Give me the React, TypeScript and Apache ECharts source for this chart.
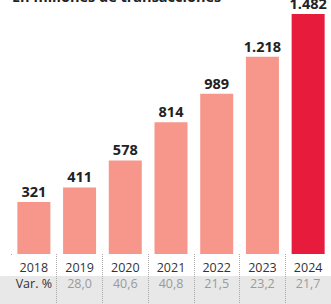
import React, { useEffect, useRef } from "react";
import * as echarts from "echarts";

const title = "En millones de transacciones";
const years = ["2018", "2019", "2020", "2021", "2022", "2023", "2024"];
const values = [321, 411, 578, 814, 989, 1218, 1482];
const varLabels = ["Var. %", "28,0", "40,6", "40,8", "21,5", "23,2", "21,7"];

const SALMON = "#f7968a";
const RED = "#e71b3b";
const BAND = "#e8e8e8";
const FONT = "'Open Sans', 'Noto Sans', sans-serif";

const fmt = (v: number) => String(v).replace(/\B(?=(\d{3})+(?!\d))/g, ".");

export default function App() {
  const ref = useRef<HTMLDivElement>(null);
  useEffect(() => {
    if (!ref.current) return;
    const chart = echarts.init(ref.current, undefined, { renderer: "svg" });
    const maxV = Math.max(...values);
    chart.setOption({
      animation: false,
      backgroundColor: "#ffffff",
      textStyle: { fontFamily: FONT },
      graphic: [
        {
          type: "rect",
          z: -10,
          silent: true,
          shape: { x: 0, y: 276, width: 331, height: 28 },
          style: { fill: BAND },
        },
        {
          type: "text",
          left: 12,
          top: -11,
          style: {
            text: title,
            font: `bold 14.5px ${FONT}`,
            fill: "#222",
          },
        },
        {
          type: "rect",
          z: 50,
          silent: true,
          shape: { x: 8, y: 255, width: 6, height: 21 },
          style: { fill: "#ffffff" },
        },
        {
          type: "rect",
          z: 50,
          silent: true,
          shape: { x: 8, y: 276, width: 6, height: 28 },
          style: { fill: BAND },
        },
      ],
      grid: { left: 11, top: 14, width: 324, height: 240, containLabel: false },
      xAxis: [
        {
          type: "category",
          data: years,
          position: "bottom",
          axisLine: { show: false },
          axisTick: {
            show: true,
            interval: 0,
            length: 50,
            lineStyle: { color: "#aaaaaa", type: "dotted", width: 1 },
          },
          axisLabel: {
            color: "#333",
            fontSize: 12.5,
            lineHeight: 14,
            margin: 6,
            interval: 0,
            fontFamily: FONT,
          },
          z: 5,
        },
        {
          type: "category",
          data: varLabels,
          position: "bottom",
          offset: 16,
          axisLine: { show: false },
          axisTick: { show: false },
          axisLabel: {
            fontSize: 12.5,
            lineHeight: 14,
            margin: 6,
            interval: 0,
            fontFamily: FONT,
            formatter: (v: string, i: number) => (i === 0 ? `{a|${v}}` : `{b|${v}}`),
            rich: {
              a: { color: "#333", fontSize: 12.5, lineHeight: 14, fontFamily: FONT },
              b: { color: "#9a9a9a", fontSize: 12.5, lineHeight: 14, fontFamily: FONT },
            },
          },
          z: 5,
        },
      ],
      yAxis: { type: "value", min: 0, max: maxV, show: false, splitLine: { show: false } },
      series: [
        {
          type: "bar",
          xAxisIndex: 0,
          barWidth: 33,
          data: values.map((v, i) => ({
            value: v,
            itemStyle: { color: i === values.length - 1 ? RED : SALMON },
          })),
          label: {
            show: true,
            position: "top",
            distance: 3,
            color: "#222",
            fontWeight: "bold",
            fontSize: 14.5,
            fontFamily: FONT,
            formatter: (p: any) => fmt(p.value),
          },
        },
      ],
    });
    return () => chart.dispose();
  }, []);
  return <div ref={ref} style={{ width: 331, height: 304, position: "absolute", left: 0, top: 0 }} />;
}
